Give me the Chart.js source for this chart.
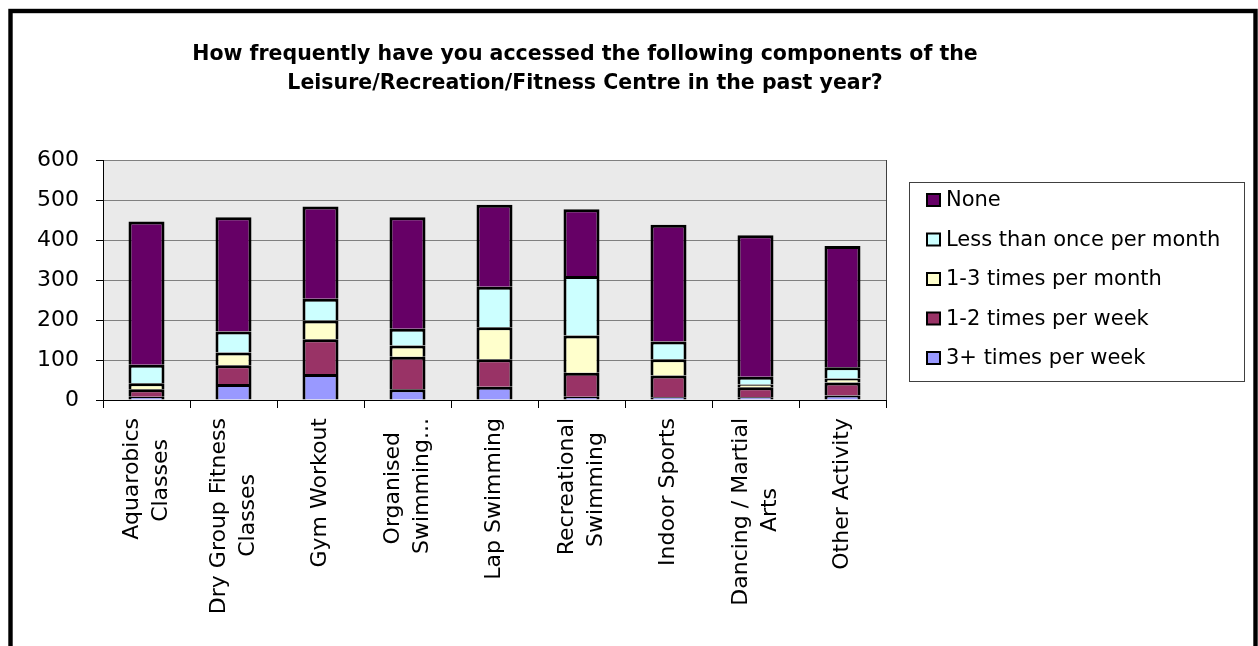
<!DOCTYPE html>
<html>
<head>
<meta charset="utf-8">
<script src="https://cdn.jsdelivr.net/npm/chart.js@4/dist/chart.umd.min.js"></script>
<style>
  html, body { margin: 0; padding: 0; background: #ffffff; }
  #wrap { position: relative; width: 1258px; height: 646px; }
</style>
</head>
<body>
<div id="wrap"><canvas id="chart"></canvas></div>
<script>
// ---- data ----
const titleLines = [
  'How frequently have you accessed the following components of the',
  'Leisure/Recreation/Fitness Centre in the past year?'
];
const categories = [
  ['Aquarobics', 'Classes'],
  ['Dry Group Fitness', 'Classes'],
  ['Gym Workout'],
  ['Organised', 'Swimming...'],
  ['Lap Swimming'],
  ['Recreational', 'Swimming'],
  ['Indoor Sports'],
  ['Dancing / Martial', 'Arts'],
  ['Other Activity']
];
const seriesNames = ['3+ times per week', '1-2 times per week', '1-3 times per month', 'Less than once per month', 'None'];
const threePlusPerWeek = [8, 40, 65, 27, 33, 8, 7, 7, 11];
const oneTwoPerWeek    = [19, 47, 87, 81, 69, 60, 54, 25, 33];
const oneThreePerMonth = [15, 32, 47, 28, 80, 93, 41, 7, 10];
const lessThanMonthly  = [46, 52, 54, 42, 101, 149, 44, 19, 28];
const noneValues       = [358, 286, 231, 279, 205, 167, 292, 354, 303];
const yTicks = [0, 100, 200, 300, 400, 500, 600];

// ---- styles ----
const FONT = '"DejaVu Sans", "Liberation Sans", Arial, sans-serif';
const seriesColors = ['#9999FF', '#993366', '#FFFFCC', '#CCFFFF', '#660066'];
Chart.defaults.font.family = FONT;
Chart.defaults.color = '#000';

// center shorter lines of a wrapped label lengthwise (pad with spaces)
const mctx = document.createElement('canvas').getContext('2d');
mctx.font = '22px ' + FONT;
const spaceW = mctx.measureText('\u00A0').width;
const paddedLabels = categories.map(lines => {
  if (lines.length < 2) return lines.length === 1 ? lines[0] : lines;
  const widths = lines.map(l => mctx.measureText(l).width);
  const maxW = Math.max(...widths);
  return lines.map((l, i) => l + '\u00A0'.repeat(Math.round((maxW - widths[i]) / 2 / spaceW)));
});

const makeSet = (i, data) => ({
  label: seriesNames[i],
  data: data,
  backgroundColor: seriesColors[i],
  borderColor: '#000000',
  borderWidth: { top: 3, left: 3, right: 3, bottom: 0 },
  borderSkipped: false,
  barPercentage: 0.414,
  categoryPercentage: 1.0
});

const decorPlugin = {
  id: 'decor',
  beforeDraw(chart) {
    const { ctx, chartArea: a } = chart;
    ctx.save();
    ctx.fillStyle = '#ffffff';
    ctx.fillRect(0, 0, chart.width, chart.height);
    ctx.fillStyle = '#EAEAEA';
    ctx.fillRect(a.left, a.top, a.right - a.left, a.bottom - a.top);
    ctx.restore();
    // center multi-line rotated labels on their tick
    const items = chart.scales.x.getLabelItems();
    if (!items._centered) {
      items.forEach(it => {
        const n = Array.isArray(it.label) ? it.label.length : 1;
        it.options.translation[0] -= (n - 1) * it.font.lineHeight / 2;
      });
      items._centered = true;
    }
  },
  afterDraw(chart) {
    const { ctx, chartArea: a } = chart;
    ctx.save();
    // plot area right border
    ctx.strokeStyle = '#404040';
    ctx.lineWidth = 1;
    ctx.beginPath();
    ctx.moveTo(Math.round(a.right) + 0.5, a.top);
    ctx.lineTo(Math.round(a.right) + 0.5, a.bottom);
    ctx.stroke();

    // title
    ctx.fillStyle = '#000';
    ctx.font = 'bold 20.5px ' + FONT;
    ctx.textAlign = 'center';
    ctx.textBaseline = 'alphabetic';
    ctx.fillText(titleLines[0], 585, 60);
    ctx.fillText(titleLines[1], 585, 89);

    // legend
    const lx = 909, ly = 182, lw = 335, lh = 199;
    ctx.strokeStyle = '#404040';
    ctx.lineWidth = 1;
    ctx.strokeRect(lx + 0.5, ly + 0.5, lw, lh);
    const sets = chart.data.datasets.slice().reverse();
    ctx.font = '21px ' + FONT;
    ctx.textAlign = 'left';
    ctx.textBaseline = 'middle';
    sets.forEach((ds, i) => {
      const cy = 200 + i * 39.5;
      ctx.fillStyle = '#000';
      ctx.fillRect(926, cy - 7, 15, 14);
      ctx.fillStyle = ds.backgroundColor;
      ctx.fillRect(928, cy - 5, 11, 10);
      ctx.fillStyle = '#000';
      ctx.fillText(ds.label, 946, cy + 1);
    });

    // outer frame
    ctx.strokeStyle = '#000';
    ctx.lineWidth = 4.4;
    ctx.strokeRect(10.5, 11, 1245, 700);
    ctx.restore();
  }
};

new Chart(document.getElementById('chart'), {
  type: 'bar',
  data: {
    labels: categories,
    datasets: [
      makeSet(0, threePlusPerWeek),
      makeSet(1, oneTwoPerWeek),
      makeSet(2, oneThreePerMonth),
      makeSet(3, lessThanMonthly),
      makeSet(4, noneValues)
    ]
  },
  options: {
    responsive: true,
    maintainAspectRatio: false,
    animation: false,
    devicePixelRatio: 1,
    layout: { padding: { top: 160, right: 372, left: 0, bottom: 0 } },
    plugins: {
      legend: { display: false },
      title: { display: false },
      tooltip: { enabled: false }
    },
    scales: {
      x: {
        stacked: true,
        offset: true,
        grid: { offset: true, drawOnChartArea: false, drawTicks: true, tickLength: 8, color: '#000', lineWidth: 1 },
        border: { display: true, color: '#000', width: 1 },
        ticks: {
          autoSkip: false,
          minRotation: 90,
          maxRotation: 90,
          padding: 10,
          color: '#000',
          font: { size: 22, lineHeight: 1.3 },
          callback: (value, index) => paddedLabels[index]
        },
        afterFit: s => { s.height = 246; }
      },
      y: {
        stacked: true,
        min: yTicks[0],
        max: yTicks[yTicks.length - 1],
        ticks: { stepSize: yTicks[1] - yTicks[0], padding: 17, color: '#000', font: { size: 22 } },
        grid: { color: '#808080', lineWidth: 1, tickLength: 7, tickColor: '#000', drawTicks: true },
        border: { display: true, color: '#000', width: 1 },
        afterFit: s => { s.width = 103; }
      }
    }
  },
  plugins: [decorPlugin]
});
</script>
</body>
</html>
